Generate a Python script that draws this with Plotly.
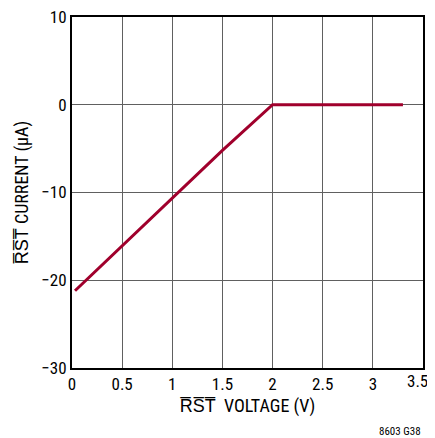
import plotly.graph_objects as go

# RST pin voltage (V) vs. current (uA)
voltage = [0.03, 0.5, 1.0, 1.5, 2.0, 2.5, 3.0, 3.3]
current = [-21.2, -16.1, -10.7, -5.2, 0.0, 0.0, 0.0, 0.0]

x_ticks = [0, 0.5, 1, 1.5, 2, 2.5, 3, 3.5]
x_labels = ["0", "0.5", "1", "1.5", "2", "2.5", "3", ""]
y_ticks = [-30, -20, -10, 0, 10]

font = "Liberation Sans Narrow, Roboto Condensed, Arial Narrow, Liberation Sans, sans-serif"
ovl = "\u0305"
rst = ovl.join("RST") + ovl

fig = go.Figure(go.Scatter(
    x=voltage, y=current, mode="lines",
    line=dict(color="#a0002c", width=3),
))

# page body adds an 8px offset, so size and margins are trimmed to match
fig.update_layout(
    width=427, height=430,
    margin=dict(l=64, r=12, t=9, b=70),
    paper_bgcolor="white", plot_bgcolor="white",
    showlegend=False,
    font=dict(family=font, color="black", size=17),
    xaxis=dict(
        range=[0, 3.5], tickvals=x_ticks, ticktext=x_labels,
        showgrid=True, gridcolor="#606060", gridwidth=1,
        showline=True, linecolor="black", linewidth=2, mirror=True,
        ticks="", tickfont=dict(size=17), automargin=False,
        ticklabeloverflow="allow",
        title=dict(text=rst + "  VOLTAGE (V)", font=dict(size=18), standoff=6),
        zeroline=False,
    ),
    yaxis=dict(
        range=[-30, 10], tickvals=y_ticks,
        showgrid=True, gridcolor="#606060", gridwidth=1,
        showline=True, linecolor="black", linewidth=2, mirror=True,
        ticks="", tickfont=dict(size=17), automargin=False,
        ticklabeloverflow="allow",
        title=dict(text=rst + " CURRENT (\u00b5A)", font=dict(size=18), standoff=8),
        zeroline=False,
    ),
    annotations=[
        # last x tick label, nudged left so it stays inside the page
        dict(text=str(x_ticks[-1]), x=x_ticks[-1], y=0, xref="x", yref="paper",
             xanchor="center", yanchor="top", yshift=-1, xshift=-6,
             showarrow=False, font=dict(size=17, family=font)),
        dict(text="8603 G38", x=1, y=-0.182, xref="paper", yref="paper",
             xanchor="right", yanchor="middle", showarrow=False,
             font=dict(size=11, family=font)),
    ],
)

fig.write_html("out.html")
